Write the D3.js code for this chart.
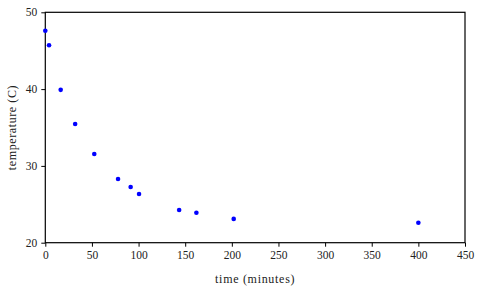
<!DOCTYPE html>
<html>
<head>
<meta charset="utf-8">
<script src="https://cdn.jsdelivr.net/npm/d3@7"></script>
<style>
  body { margin: 0; background: #fff; }
  svg text { font-family: "Liberation Serif", "DejaVu Serif", serif; fill: #222; }
</style>
</head>
<body>
<div id="chart"></div>
<script>
// cooling data
var times = [0, 4, 16.5, 32, 52.5, 78, 91.5, 100.5, 143.5, 162, 202, 400];
var temps = [47.6, 45.7, 39.9, 35.45, 31.55, 28.3, 27.25, 26.35, 24.25, 23.9, 23.1, 22.6];
var xTicks = [0, 50, 100, 150, 200, 250, 300, 350, 400, 450];
var yTicks = [20, 30, 40, 50];

var width = 477, height = 291;
var margin = { top: 12.3, right: 12, bottom: 48.3, left: 45.3 },
    w = width - margin.left - margin.right,
    h = height - margin.top - margin.bottom;

var svg = d3.select("#chart").append("svg")
    .attr("width", width).attr("height", height);
var g = svg.append("g")
    .attr("transform", "translate(" + margin.left + "," + margin.top + ")");

var x = d3.scaleLinear().domain([0, 450]).range([0, w]);
var y = d3.scaleLinear().domain([20, 50]).range([h, 0]);

// axes
var xAxis = g.append("g").attr("transform", "translate(0," + h + ")")
    .call(d3.axisBottom(x).tickValues(xTicks).tickSize(4).tickPadding(4));
var yAxis = g.append("g")
    .call(d3.axisLeft(y).tickValues(yTicks).tickSize(4).tickPadding(4));
[xAxis, yAxis].forEach(function(a) {
    a.select(".domain").remove();
    a.selectAll("line").attr("stroke", "#000").attr("stroke-width", 1);
    a.selectAll("text").style("font-size", "11.5px")
        .style("font-family", "'Liberation Serif', serif").attr("fill", "#222");
});

// frame
g.append("rect").attr("x", 0).attr("y", 0).attr("width", w).attr("height", h)
    .attr("fill", "none").attr("stroke", "#000").attr("stroke-width", 1.2);

// points
g.selectAll("circle").data(times).enter().append("circle")
    .attr("cx", function(d) { return x(d); })
    .attr("cy", function(d, i) { return y(temps[i]); })
    .attr("r", 2.3)
    .attr("fill", "#0000ff");

// labels
svg.append("text").attr("x", margin.left + w / 2).attr("y", 283)
    .attr("text-anchor", "middle").style("font-size", "12px")
    .style("letter-spacing", "0.7px")
    .text("time (minutes)");
svg.append("text")
    .attr("transform", "translate(16," + (margin.top + h / 2) + ") rotate(-90)")
    .attr("text-anchor", "middle").style("font-size", "12px")
    .style("letter-spacing", "0.6px")
    .text("temperature (C)");
</script>
</body>
</html>
